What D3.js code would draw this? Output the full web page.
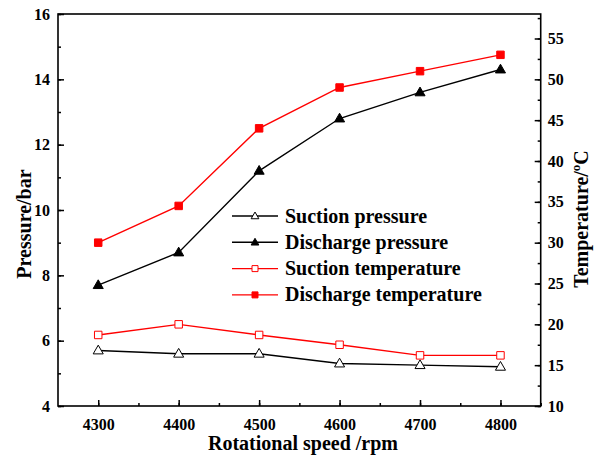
<!DOCTYPE html>
<html>
<head>
<meta charset="utf-8">
<script src="https://cdn.jsdelivr.net/npm/d3@7"></script>
<style>
  body { margin: 0; background: #fff; }
  svg text { font-family: "Liberation Serif", "Times New Roman", serif; font-weight: bold; fill: #000; }
</style>
</head>
<body>
<div id="main-container"></div>
<script>
// Data
const SPEEDS = [4300, 4400, 4500, 4600, 4700, 4800];
const SUCTION_PRESSURE = [5.7, 5.6, 5.6, 5.3, 5.25, 5.2];       // bar, left axis
const DISCHARGE_PRESSURE = [7.7, 8.7, 11.2, 12.8, 13.6, 14.3];  // bar, left axis
const SUCTION_TEMP = [18.7, 20.0, 18.7, 17.5, 16.2, 16.2];      // °C, right axis
const DISCHARGE_TEMP = [30.0, 34.5, 44.0, 49.0, 51.0, 53.0];    // °C, right axis
const X_TICKS = [4300, 4400, 4500, 4600, 4700, 4800];
const P_TICKS = [4, 6, 8, 10, 12, 14, 16];
const T_TICKS = [10, 15, 20, 25, 30, 35, 40, 45, 50, 55];

const SERIES = [
    { name: 'Suction pressure', values: SUCTION_PRESSURE, axis: 'p', color: '#000', shape: 'tri', filled: false },
    { name: 'Discharge pressure', values: DISCHARGE_PRESSURE, axis: 'p', color: '#000', shape: 'tri', filled: true },
    { name: 'Suction temperature', values: SUCTION_TEMP, axis: 't', color: '#ff0000', shape: 'sq', filled: false },
    { name: 'Discharge temperature', values: DISCHARGE_TEMP, axis: 't', color: '#ff0000', shape: 'sq', filled: true }
];

const WIDTH = 594, HEIGHT = 456;
const MARGIN = { top: 14, right: 53.3, bottom: 50, left: 58 };

const SVG = d3.select('#main-container').append('svg')
    .attr('width', WIDTH)
    .attr('height', HEIGHT);

// Scales
const X_SCALE = d3.scaleLinear().domain([4250, 4850]).range([MARGIN.left, WIDTH - MARGIN.right]);
const P_SCALE = d3.scaleLinear().domain([4, 16]).range([HEIGHT - MARGIN.bottom, MARGIN.top]);
const T_SCALE = d3.scaleLinear().domain([10, 58]).range([HEIGHT - MARGIN.bottom, MARGIN.top]);

const X0 = MARGIN.left, X1 = WIDTH - MARGIN.right;
const Y0 = HEIGHT - MARGIN.bottom, Y1 = MARGIN.top;

// Axes (ticks inside the frame)
const styleAxis = (g) => {
    g.attr('font-family', null).attr('font-size', null);
    g.select('.domain').remove();
    g.selectAll('line').attr('stroke', '#000').attr('stroke-width', 1.5);
    g.selectAll('text').style('font-size', '16px');
};

// minor ticks
SVG.append('g').attr('transform', `translate(0,${Y0})`)
    .call(d3.axisBottom(X_SCALE).tickValues(d3.range(4300, 4851, 50)).tickSize(-3).tickFormat(''))
    .call(styleAxis);
SVG.append('g').attr('transform', `translate(${X0},0)`)
    .call(d3.axisLeft(P_SCALE).tickValues(d3.range(4, 16.1, 1)).tickSize(-3).tickFormat(''))
    .call(styleAxis);
SVG.append('g').attr('transform', `translate(${X1},0)`)
    .call(d3.axisRight(T_SCALE).tickValues(d3.range(10, 58.1, 2.5)).tickSize(-3).tickFormat(''))
    .call(styleAxis);

// major ticks
SVG.append('g').attr('transform', `translate(0,${Y0})`)
    .call(d3.axisBottom(X_SCALE).tickValues(X_TICKS).tickFormat(d3.format('d')).tickSize(-6).tickPadding(13))
    .call(styleAxis);
SVG.append('g').attr('transform', `translate(${X0},0)`)
    .call(d3.axisLeft(P_SCALE).tickValues(P_TICKS).tickFormat(d3.format('d')).tickSize(-6).tickPadding(8))
    .call(styleAxis);
SVG.append('g').attr('transform', `translate(${X1},0)`)
    .call(d3.axisRight(T_SCALE).tickValues(T_TICKS).tickFormat(d3.format('d')).tickSize(-6).tickPadding(7))
    .call(styleAxis);

// Frame
SVG.append('rect')
    .attr('x', X0).attr('y', Y1)
    .attr('width', X1 - X0).attr('height', Y0 - Y1)
    .attr('fill', 'none').attr('stroke', '#000').attr('stroke-width', 1.6);

// Series
const TRI = d3.symbol().type(d3.symbolTriangle).size(44);
const SQ = d3.symbol().type(d3.symbolSquare).size(56);
const TRI_SMALL = d3.symbol().type(d3.symbolTriangle).size(26);
const SQ_SMALL = d3.symbol().type(d3.symbolSquare).size(36);

SERIES.forEach(s => {
    const yScale = s.axis === 'p' ? P_SCALE : T_SCALE;
    const pts = SPEEDS.map((x, i) => [X_SCALE(x), yScale(s.values[i])]);
    SVG.append('path')
        .attr('d', d3.line()(pts))
        .attr('fill', 'none')
        .attr('stroke', s.color)
        .attr('stroke-width', 1.4);
    SVG.selectAll(null)
        .data(pts).enter()
        .append('path')
        .attr('d', s.shape === 'tri' ? TRI() : SQ())
        .attr('transform', d => `translate(${d[0]},${d[1] + (s.shape === 'tri' ? 0.5 : 0)})`)
        .attr('fill', s.filled ? s.color : '#fff')
        .attr('stroke', s.color)
        .attr('stroke-width', 1);
});

// Legend
const LEGEND = SVG.append('g').attr('transform', 'translate(232,216)');
SERIES.forEach((s, i) => {
    const row = LEGEND.append('g').attr('transform', `translate(0,${i * 26.3})`);
    row.append('line')
        .attr('x1', 0).attr('x2', 46).attr('y1', 0).attr('y2', 0)
        .attr('stroke', s.color).attr('stroke-width', 1.4);
    row.append('path')
        .attr('d', s.shape === 'tri' ? TRI_SMALL() : SQ_SMALL())
        .attr('transform', `translate(23,${s.shape === 'tri' ? 0.5 : 0})`)
        .attr('fill', s.filled ? s.color : '#fff')
        .attr('stroke', s.color)
        .attr('stroke-width', 1);
    row.append('text')
        .attr('x', 53).attr('y', 6.5)
        .style('font-size', '20px')
        .text(s.name);
});

// Axis titles
SVG.append('text')
    .attr('x', 303).attr('y', 450)
    .attr('text-anchor', 'middle')
    .style('font-size', '20px')
    .text('Rotational speed /rpm');

SVG.append('text')
    .attr('transform', 'translate(31,224) rotate(-90)')
    .attr('text-anchor', 'middle')
    .style('font-size', '20px')
    .text('Pressure/bar');

const T_LABEL = SVG.append('text')
    .attr('transform', 'translate(588,219) rotate(-90)')
    .attr('text-anchor', 'middle')
    .style('font-size', '20px');
T_LABEL.append('tspan').text('Temperature/');
T_LABEL.append('tspan').attr('dy', -8).style('font-size', '13px').text('o');
T_LABEL.append('tspan').attr('dy', 8).text('C');
</script>
</body>
</html>
